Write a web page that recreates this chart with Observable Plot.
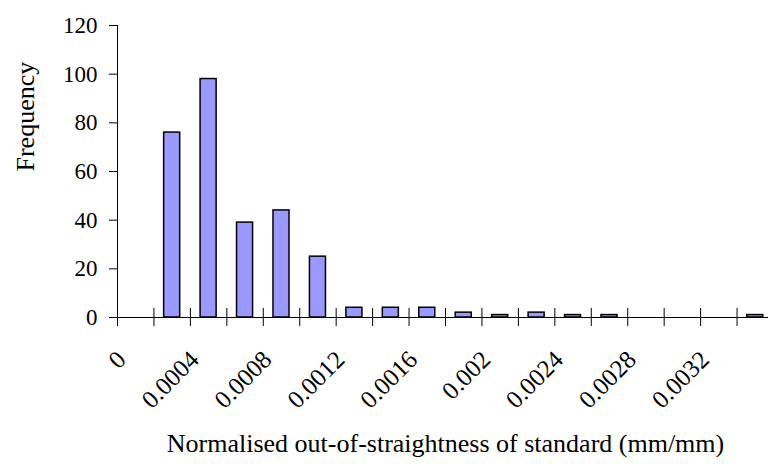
<!DOCTYPE html>
<html>
<head>
<meta charset="utf-8">
<script src="https://cdn.jsdelivr.net/npm/d3@7"></script>
<script src="https://cdn.jsdelivr.net/npm/@observablehq/plot@0.6"></script>
<style>
  html, body { margin: 0; padding: 0; background: #fff; }
  svg { display: block; }
  svg text { font-family: "Liberation Serif", "Times New Roman", serif; }
</style>
</head>
<body>
<div id="chart"></div>
<script>
// Histogram bins (upper bounds of normalised out-of-straightness, mm/mm)
const bins = ["0", "0.0002", "0.0004", "0.0006", "0.0008", "0.001", "0.0012", "0.0014", "0.0016",
              "0.0018", "0.002", "0.0022", "0.0024", "0.0026", "0.0028", "0.003", "0.0032", "0.0034"];
// Frequency per bin
const frequency = [0, 76, 98, 39, 44, 25, 4, 4, 4, 2, 1, 2, 1, 1, 0, 0, 0, 1];
// Bins that carry a tick label on the x axis
const xTickLabels = ["0", "0.0004", "0.0008", "0.0012", "0.0016", "0.002", "0.0024", "0.0028", "0.0032"];
const yTicks = [0, 20, 40, 60, 80, 100, 120];

const data = bins.map((b, i) => ({bin: b, count: frequency[i]}));

const width = 768, height = 467;
const marginLeft = 117, marginRight = -5, marginTop = 25, marginBottom = 150;
const step = (width - marginLeft - marginRight) / bins.length;
const font = "'Liberation Serif', 'Times New Roman', serif";

const chart = Plot.plot({
  width, height, marginLeft, marginRight, marginTop, marginBottom,
  style: {fontFamily: font, fontSize: "23px", color: "#000", background: "#fff"},
  x: {type: "band", domain: bins, paddingInner: 0.56, paddingOuter: 0.28, round: false, axis: null},
  y: {domain: [0, 120], axis: null},
  marks: [
    Plot.barY(data, {x: "bin", y: "count", fill: "#9999ff", stroke: "#000", strokeWidth: 1.5}),
    // horizontal category axis
    Plot.ruleY([0], {stroke: "#000", strokeWidth: 1}),
    // vertical value axis line at the first bin boundary
    Plot.ruleX([bins[0]], {y1: 0, y2: 120, dx: -step / 2, stroke: "#000", strokeWidth: 1}),
    // category boundary ticks crossing the axis
    Plot.ruleX(bins, {y1: 0, y2: 0, insetTop: -9, insetBottom: -9, dx: -step / 2, stroke: "#000", strokeWidth: 1}),
    Plot.axisY({ticks: yTicks, tickSize: 8, tickPadding: 12, fontSize: 23, label: null, anchor: "left"}),
    // rotated bin labels
    Plot.text(xTickLabels, {
      x: d => d, y: 0, text: d => d, rotate: -45, textAnchor: "end", lineAnchor: "middle",
      dx: -14, dy: 38, fontSize: 25
    }),
    Plot.text(["Frequency"], {frameAnchor: "left", rotate: -90, dx: -92, fontSize: 26}),
    Plot.text(["Normalised out-of-straightness of standard (mm/mm)"], {
      frameAnchor: "bottom", dy: 134, fontSize: 26
    })
  ]
});

document.getElementById("chart").appendChild(chart);
</script>
</body>
</html>
